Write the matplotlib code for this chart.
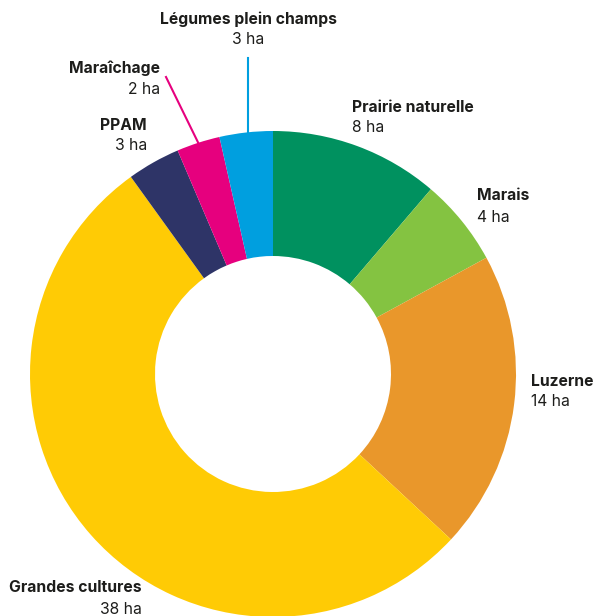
import numpy as np
import matplotlib.pyplot as plt

plt.rcParams['font.family'] = ['Inter', 'DejaVu Sans']

labels = ["Prairie naturelle", "Marais", "Luzerne", "Grandes cultures",
          "PPAM", "Maraîchage", "Légumes plein champs"]
# surfaces (ha); labels show rounded values
values = [8.05, 4.15, 14.2, 38.0, 2.52, 2.06, 2.53]
shown = ["8 ha", "4 ha", "14 ha", "38 ha", "3 ha", "2 ha", "3 ha"]
colors = ["#00915f", "#84c341", "#e9972b", "#ffcb05",
          "#2e3467", "#e6007e", "#009fdf"]

# figure in pixel coordinates (y up)
W, H = 593, 616
cx, cy = 273, H - 374
r_out = 243
r_in = 118

fig = plt.figure(figsize=(W / 100, H / 100), dpi=100)
ax = fig.add_axes([0, 0, 1, 1])

wedges, _ = ax.pie(values, colors=colors, startangle=90, counterclock=False,
                   center=(cx, cy), radius=r_out,
                   wedgeprops=dict(width=r_out - r_in, linewidth=0))
ax.set_xlim(0, W)
ax.set_ylim(0, H)
ax.set_aspect('equal')
ax.axis('off')

# label anchor (x, y of bold line from top, alignment)
label_pos = {
    "Prairie naturelle": (352, 107, "left"),
    "Marais": (477, 196, "left"),
    "Luzerne": (531, 381, "left"),
    "Grandes cultures": (142, 588, "right"),
    "PPAM": (147, 125, "right"),
    "Maraîchage": (160, 68, "right"),
    "Légumes plein champs": (248, 19, "center"),
}

for lab, txt, w, col in zip(labels, shown, wedges, colors):
    x, y, ha = label_pos[lab]
    ax.text(x, H - y, lab, ha=ha, va="center", fontsize=11.3,
            fontweight="bold", color="#1d1d1b")
    ax.text(x, H - y - 21, txt, ha=ha, va="center", fontsize=11.3,
            color="#1d1d1b")
    if lab == "Légumes plein champs":
        lx = x
        ly = cy + np.sqrt(r_out ** 2 - (lx - cx) ** 2)
        ax.plot([lx, lx], [H - 58, ly], color=col, lw=1.5)
    elif lab == "Maraîchage":
        mid = np.deg2rad((w.theta1 + w.theta2) / 2)
        ex = cx + r_out * np.cos(mid)
        ey = cy + r_out * np.sin(mid)
        ax.plot([166, ex], [H - 77, ey], color=col, lw=1.5)

fig.savefig("out.png", dpi=100)
